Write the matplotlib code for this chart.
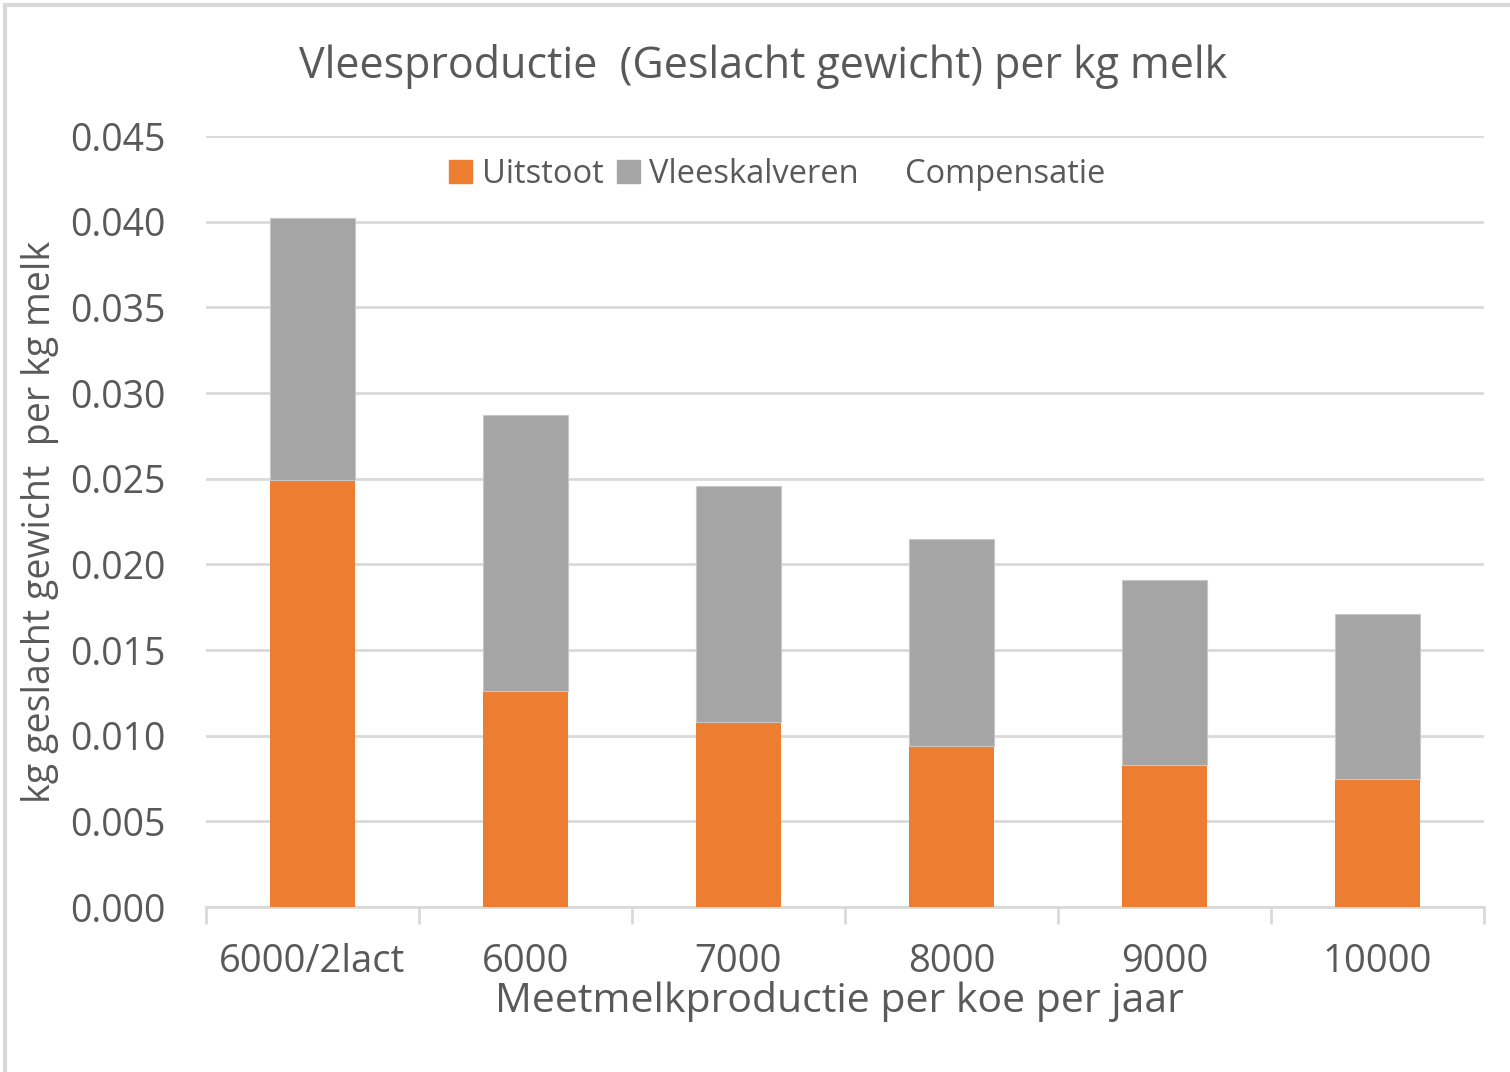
import matplotlib.pyplot as plt
from matplotlib.patches import Rectangle
import numpy as np

categories = ["6000/2lact", "6000", "7000", "8000", "9000", "10000"]
uitstoot = [0.0249, 0.0126, 0.0108, 0.0094, 0.0083, 0.0075]
vleeskalveren = [0.0153, 0.0161, 0.0138, 0.0121, 0.0108, 0.0096]
compensatie = [0, 0, 0, 0, 0, 0]

plt.rcParams['font.family'] = ['Open Sans', 'DejaVu Sans']
txt = '#595959'
grid = '#d9d9d9'

fig = plt.figure(figsize=(15.1, 10.72), dpi=100)
ax = fig.add_axes([0.1364, 0.1539, 0.8464, 0.7192])

x = np.arange(len(categories))
w = 0.4
ax.bar(x, uitstoot, w, color='#ed7d31', label='Uitstoot', zorder=3)
ax.bar(x, vleeskalveren, w, bottom=uitstoot, color='#a5a5a5',
       edgecolor='#c8c8c8', linewidth=0.8, label='Vleeskalveren', zorder=3)
bottom2 = np.array(uitstoot) + np.array(vleeskalveren)
ax.bar(x, compensatie, w, bottom=bottom2, color='none', label='Compensatie', zorder=3)

ax.set_xlim(-0.5, len(categories) - 0.5)
ax.set_ylim(0, 0.045)
yt = np.arange(0, 0.0451, 0.005)
ax.set_yticks(yt)
ax.set_yticklabels([f"{v:.3f}" for v in yt])
ax.yaxis.grid(True, color=grid, linewidth=2, zorder=0)
ax.set_axisbelow(True)
for s in ['top', 'right', 'left']:
    ax.spines[s].set_visible(False)
ax.spines['bottom'].set_color(grid)
ax.spines['bottom'].set_linewidth(2)
ax.tick_params(axis='y', length=0, labelsize=27, labelcolor=txt, pad=29)
ax.set_xticks(x)
ax.set_xticklabels(categories)
ax.tick_params(axis='x', length=0, labelsize=27.5, labelcolor=txt, pad=26)
ax.set_xticks(np.arange(-0.5, len(categories)), minor=True)
ax.tick_params(axis='x', which='minor', length=12, width=2, color=grid)

# x-as titel los geplaatst, vlak onder de categorieën
fig.text(0.556, 1 - 1002 / 1072, "Meetmelkproductie per koe per jaar", fontsize=29.5,
         color=txt, ha='center', va='center')
ax.set_ylabel("kg geslacht gewicht  per kg melk", fontsize=27, color=txt, labelpad=8)
ax.set_title("Vleesproductie  (Geslacht gewicht) per kg melk", fontsize=31,
             color=txt, pad=42, x=0.436)

handles = [Rectangle((0, 0), 1, 1, color='#ed7d31'),
           Rectangle((0, 0), 1, 1, color='#a5a5a5'),
           Rectangle((0, 0), 1, 1, color='none')]
ax.legend(handles, ['Uitstoot', 'Vleeskalveren', 'Compensatie'], loc='upper center',
          bbox_to_anchor=(0.447, 1.01), ncol=3, frameon=False, fontsize=23.5,
          labelcolor=txt, handlelength=0.7, handleheight=0.7, handletextpad=0.3,
          columnspacing=0.4)

fig.patches.append(Rectangle((0.003, -0.01), 1.1, 1.005, transform=fig.transFigure,
                             fill=False, edgecolor='#d9d9d9', linewidth=3))

fig.savefig("out.png")
